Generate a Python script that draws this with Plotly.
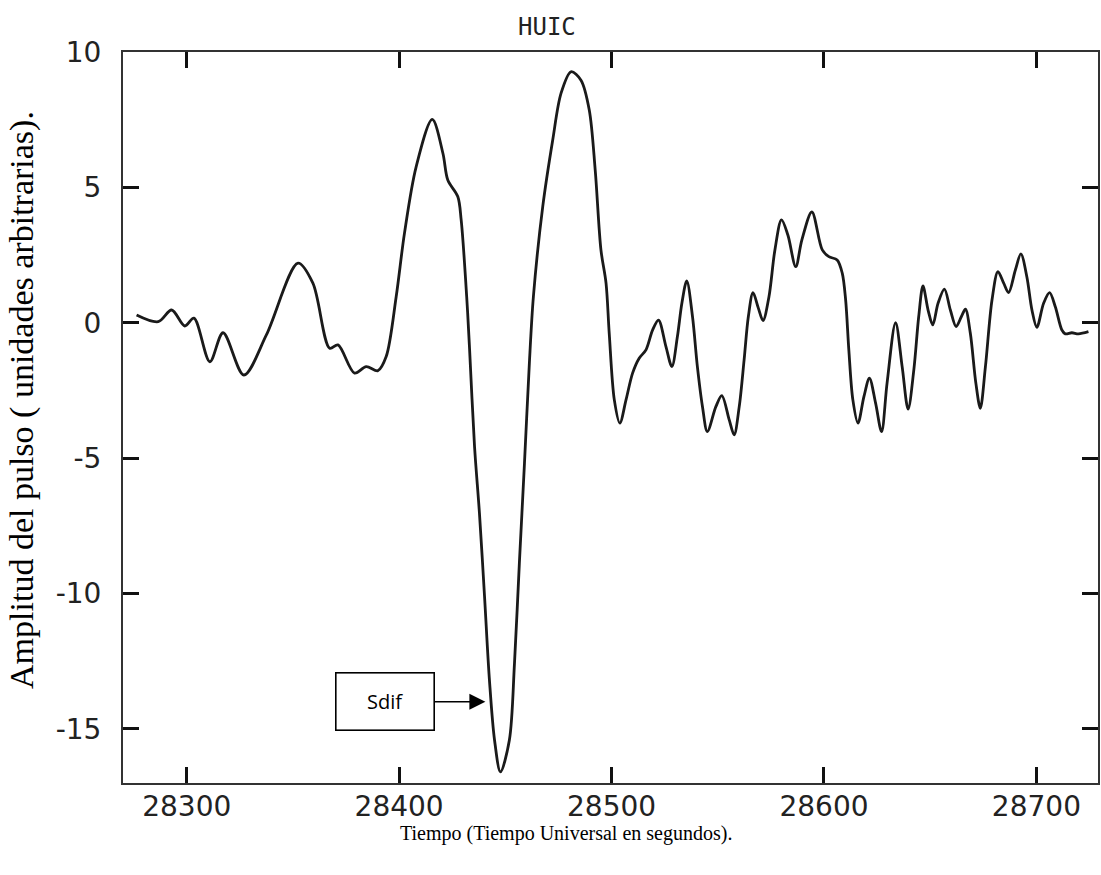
import plotly.graph_objects as go

# Time (UT seconds) and pulse amplitude (arbitrary units)
tiempo = [28276.4, 28286.6, 28292.9, 28299.1, 28303.4, 28310.9, 28317.1, 28326.9, 28337.5,
          28352.4, 28359.4, 28367.3, 28371.2, 28379.0, 28384.5, 28390.0, 28393.9, 28398.6,
          28402.5, 28408.0, 28415.6, 28420.6, 28422.9, 28427.6, 28429.2, 28431.8, 28433.1,
          28435.5, 28437.8, 28440.2, 28442.5, 28444.9, 28447.7, 28451.9, 28454.3, 28456.6,
          28459.0, 28461.3, 28463.2, 28467.6, 28472.3, 28476.2, 28480.9, 28485.6, 28489.5,
          28492.3, 28495.0, 28497.4, 28498.9, 28501.3, 28503.9, 28506.8, 28509.9, 28513.0,
          28516.2, 28519.3, 28522.1, 28525.6, 28528.4, 28531.0, 28533.1, 28535.4, 28538.1,
          28540.4, 28542.8, 28545.1, 28549.1, 28551.9, 28555.4, 28557.7, 28560.1, 28562.4,
          28564.4, 28566.6, 28569.1, 28571.3, 28574.1, 28576.9, 28580.0, 28583.0, 28586.7,
          28589.6, 28594.3, 28599.2, 28602.3, 28606.2, 28608.6, 28610.2, 28611.7, 28613.6,
          28616.0, 28618.8, 28621.4, 28624.3, 28627.1, 28629.7, 28633.7, 28636.8, 28639.6,
          28642.3, 28644.6, 28646.6, 28649.0, 28651.2, 28653.7, 28656.7, 28659.5, 28662.2,
          28664.7, 28666.6, 28668.9, 28671.5, 28673.6, 28676.0, 28679.1, 28681.9, 28684.6,
          28686.9, 28690.1, 28692.7, 28695.5, 28697.9, 28700.2, 28703.4, 28706.2, 28708.9,
          28712.0, 28713.6, 28716.7, 28719.8, 28724.5]
amplitud = [0.29, 0.04, 0.47, -0.12, 0.17, -1.44, -0.37, -1.93, -0.45,
            2.20, 1.46, -0.94, -0.82, -1.86, -1.62, -1.77, -1.25, 0.96,
            3.30, 5.76, 7.51, 6.26, 5.27, 4.66, 3.80, 0.96, -0.88,
            -4.58, -7.03, -10.11, -13.19, -15.41, -16.59, -15.41, -12.57, -8.88,
            -5.19, -1.50, 0.96, 4.29, 6.75, 8.47, 9.27, 8.96, 7.86,
            5.64, 2.69, 1.46, -0.39, -2.85, -3.71, -2.85, -1.86, -1.31,
            -1.00, -0.27, 0.10, -0.88, -1.62, -0.51, 0.72, 1.55, 0.23,
            -1.62, -3.10, -4.02, -3.10, -2.69, -3.59, -4.14, -3.10, -1.37,
            0.23, 1.11, 0.54, 0.08, 0.96, 2.69, 3.80, 3.24, 2.07,
            3.06, 4.09, 2.69, 2.44, 2.32, 1.83, 0.84, -1.00, -2.85,
            -3.71, -2.73, -2.05, -2.97, -4.02, -2.23, 0.00, -1.62, -3.19,
            -1.74, 0.23, 1.36, 0.47, -0.08, 0.72, 1.24, 0.47, -0.14,
            0.23, 0.50, -0.39, -2.23, -3.16, -1.62, 0.84, 1.89, 1.46,
            1.11, 1.95, 2.54, 1.70, 0.47, -0.17, 0.72, 1.11, 0.59,
            -0.27, -0.41, -0.37, -0.41, -0.33]

x_ticks = [28300, 28400, 28500, 28600, 28700]
x_ticktext = ["28300", "28400", "28500", "28600", "28700"]
y_ticks = [-15, -10, -5, 0, 5, 10]
y_ticktext = ["-15", "-10", "-5", "0", "5", "10"]

titulo = "HUIC"
x_titulo = "Tiempo (Tiempo Universal en segundos)."
y_titulo = "Amplitud del pulso ( unidades arbitrarias)."
etiqueta = "Sdif"
etiqueta_x, etiqueta_y = 28440.6, -14.0

fig = go.Figure()
fig.add_trace(go.Scatter(
    x=tiempo, y=amplitud, mode="lines",
    line=dict(color="#1a1a1a", width=2.8, shape="spline", smoothing=0.9),
    showlegend=False, hoverinfo="skip",
))

tick_font = dict(family="DejaVu Sans", size=28, color="#222222")
axis_common = dict(
    showgrid=False, zeroline=False, showline=True, linecolor="#333333", linewidth=2,
    mirror="ticks", ticks="inside", ticklen=16, tickwidth=2.5, tickcolor="#111111",
    tickfont=tick_font,
)

fig.update_xaxes(range=[28270, 28729], tickvals=x_ticks, ticktext=x_ticktext,
                 ticklabelstandoff=-3, **axis_common)
fig.update_yaxes(range=[-17, 10], tickvals=y_ticks, ticktext=y_ticktext,
                 ticklabelstandoff=14, **axis_common)

fig.add_annotation(
    x=etiqueta_x, y=etiqueta_y, xref="x", yref="y",
    text=etiqueta, showarrow=True, ax=-100, ay=0,
    arrowhead=2, arrowsize=2, arrowwidth=1.6, arrowcolor="#000000",
    font=dict(family="Open Sans", size=20, color="#000000"),
    bordercolor="#000000", borderwidth=1.6, borderpad=0,
    width=97, height=56, bgcolor="#ffffff",
)

fig.add_annotation(x=0.435, y=1, xref="paper", yref="paper", yshift=25,
                   yanchor="middle", text=titulo, showarrow=False,
                   font=dict(family="DejaVu Sans Mono", size=24, color="#222222"))
fig.add_annotation(x=0.4548, y=0, xref="paper", yref="paper", yshift=-50,
                   yanchor="middle", text=x_titulo, showarrow=False,
                   font=dict(family="Liberation Serif", size=20, color="#000000"))
fig.add_annotation(x=0, y=0.524, xref="paper", yref="paper", xshift=-101,
                   xanchor="center", yanchor="middle", text=y_titulo,
                   showarrow=False, textangle=-90,
                   font=dict(family="Liberation Serif", size=34, color="#000000"))

fig.update_layout(
    width=1101, height=875,
    margin=dict(l=123, r=1, t=52, b=92),
    paper_bgcolor="#ffffff", plot_bgcolor="#ffffff",
)

fig.write_html("out.html")
